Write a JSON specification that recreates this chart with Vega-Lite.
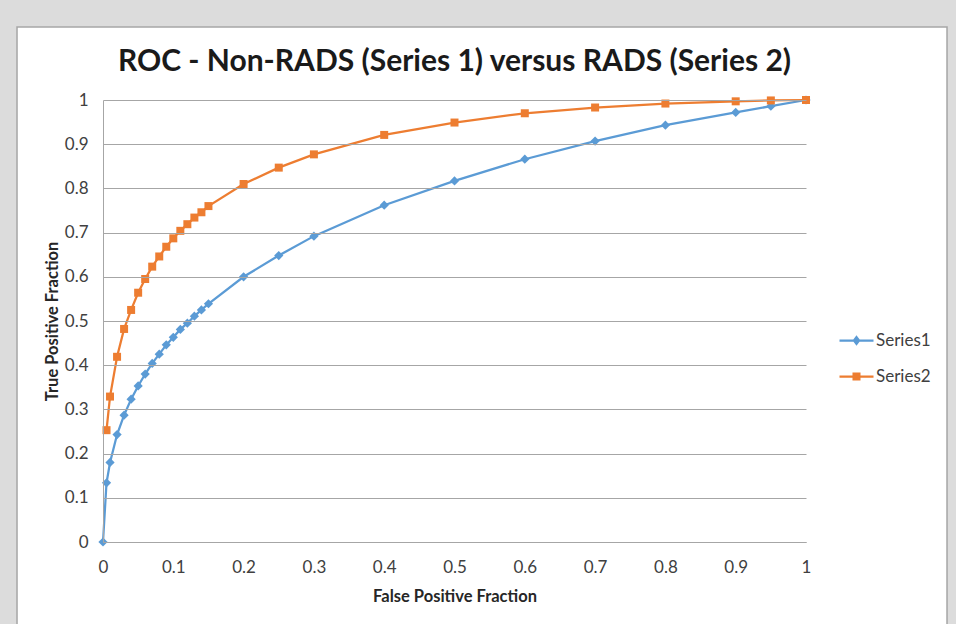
{
  "$schema": "https://vega.github.io/schema/vega-lite/v6.json",
  "width": 703,
  "height": 442,
  "autosize": {"type": "none"},
  "padding": {"left": 103, "top": 100, "right": 150, "bottom": 82},
  "background": "#dcdcdc",
  "title": {
    "text": "ROC - Non-RADS (Series 1) versus RADS (Series 2)",
    "font": "Lato",
    "fontSize": 30,
    "fontWeight": "bold",
    "color": "#1a1a1a",
    "anchor": "middle",
    "frame": "group",
    "baseline": "alphabetic",
    "offset": -75
  },
  "datasets": {
    "roc": [
      {"series": "Series1", "fpf": 0, "tpf": 0},
      {"series": "Series1", "fpf": 0.005, "tpf": 0.134},
      {"series": "Series1", "fpf": 0.01, "tpf": 0.18},
      {"series": "Series1", "fpf": 0.02, "tpf": 0.243},
      {"series": "Series1", "fpf": 0.03, "tpf": 0.287},
      {"series": "Series1", "fpf": 0.04, "tpf": 0.323},
      {"series": "Series1", "fpf": 0.05, "tpf": 0.353},
      {"series": "Series1", "fpf": 0.06, "tpf": 0.38},
      {"series": "Series1", "fpf": 0.07, "tpf": 0.404},
      {"series": "Series1", "fpf": 0.08, "tpf": 0.425},
      {"series": "Series1", "fpf": 0.09, "tpf": 0.446},
      {"series": "Series1", "fpf": 0.1, "tpf": 0.463},
      {"series": "Series1", "fpf": 0.11, "tpf": 0.481},
      {"series": "Series1", "fpf": 0.12, "tpf": 0.495},
      {"series": "Series1", "fpf": 0.13, "tpf": 0.511},
      {"series": "Series1", "fpf": 0.14, "tpf": 0.525},
      {"series": "Series1", "fpf": 0.15, "tpf": 0.539},
      {"series": "Series1", "fpf": 0.2, "tpf": 0.6},
      {"series": "Series1", "fpf": 0.25, "tpf": 0.648},
      {"series": "Series1", "fpf": 0.3, "tpf": 0.692},
      {"series": "Series1", "fpf": 0.4, "tpf": 0.762},
      {"series": "Series1", "fpf": 0.5, "tpf": 0.817},
      {"series": "Series1", "fpf": 0.6, "tpf": 0.866},
      {"series": "Series1", "fpf": 0.7, "tpf": 0.907},
      {"series": "Series1", "fpf": 0.8, "tpf": 0.943},
      {"series": "Series1", "fpf": 0.9, "tpf": 0.972},
      {"series": "Series1", "fpf": 0.95, "tpf": 0.986},
      {"series": "Series1", "fpf": 1, "tpf": 1},
      {"series": "Series2", "fpf": 0.005, "tpf": 0.253},
      {"series": "Series2", "fpf": 0.01, "tpf": 0.329},
      {"series": "Series2", "fpf": 0.02, "tpf": 0.419},
      {"series": "Series2", "fpf": 0.03, "tpf": 0.482},
      {"series": "Series2", "fpf": 0.04, "tpf": 0.525},
      {"series": "Series2", "fpf": 0.05, "tpf": 0.564},
      {"series": "Series2", "fpf": 0.06, "tpf": 0.595},
      {"series": "Series2", "fpf": 0.07, "tpf": 0.623},
      {"series": "Series2", "fpf": 0.08, "tpf": 0.646},
      {"series": "Series2", "fpf": 0.09, "tpf": 0.668},
      {"series": "Series2", "fpf": 0.1, "tpf": 0.687},
      {"series": "Series2", "fpf": 0.11, "tpf": 0.704},
      {"series": "Series2", "fpf": 0.12, "tpf": 0.719},
      {"series": "Series2", "fpf": 0.13, "tpf": 0.734},
      {"series": "Series2", "fpf": 0.14, "tpf": 0.746},
      {"series": "Series2", "fpf": 0.15, "tpf": 0.76},
      {"series": "Series2", "fpf": 0.2, "tpf": 0.81},
      {"series": "Series2", "fpf": 0.25, "tpf": 0.847},
      {"series": "Series2", "fpf": 0.3, "tpf": 0.877},
      {"series": "Series2", "fpf": 0.4, "tpf": 0.921},
      {"series": "Series2", "fpf": 0.5, "tpf": 0.949},
      {"series": "Series2", "fpf": 0.6, "tpf": 0.97},
      {"series": "Series2", "fpf": 0.7, "tpf": 0.983},
      {"series": "Series2", "fpf": 0.8, "tpf": 0.992},
      {"series": "Series2", "fpf": 0.9, "tpf": 0.997},
      {"series": "Series2", "fpf": 0.95, "tpf": 0.999},
      {"series": "Series2", "fpf": 1, "tpf": 1}
    ]
  },
  "layer": [
    {
      "data": {"values": [{"frame": "chart area"}]},
      "mark": {"type": "rect", "fill": "#ffffff", "stroke": "#a6a6a6", "strokeWidth": 1.5, "clip": false},
      "encoding": {
        "x": {"datum": -0.1223, "type": "quantitative", "scale": {"domain": [0, 1], "nice": false, "zero": false}},
        "x2": {"datum": 1.2006},
        "y": {"datum": 1.1652, "type": "quantitative", "scale": {"domain": [0, 1], "nice": false, "zero": false}},
        "y2": {"datum": -0.2}
      }
    },
    {
      "data": {"name": "roc"},
      "mark": {"type": "line", "strokeWidth": 2.25},
      "encoding": {
        "x": {
          "field": "fpf", "type": "quantitative",
          "scale": {"domain": [0, 1], "nice": false, "zero": false},
          "axis": {
            "title": "False Positive Fraction",
            "values": [0, 0.1, 0.2, 0.3, 0.4, 0.5, 0.6, 0.7, 0.8, 0.9, 1],
            "format": "~g",
            "grid": false,
            "labelPadding": 17,
            "titlePadding": 13,
            "zindex": 1
          }
        },
        "y": {
          "field": "tpf", "type": "quantitative",
          "scale": {"domain": [0, 1], "nice": false, "zero": false},
          "axis": {
            "title": "True Positive Fraction",
            "values": [0, 0.1, 0.2, 0.3, 0.4, 0.5, 0.6, 0.7, 0.8, 0.9, 1],
            "format": "~g",
            "grid": true,
            "labelPadding": 15,
            "titlePadding": 4,
            "zindex": 1
          }
        },
        "color": {
          "field": "series", "type": "nominal",
          "scale": {"domain": ["Series1", "Series2"], "range": ["#5b9bd5", "#ed7d31"]},
          "legend": {
            "title": null,
            "orient": "none",
            "legendX": 735,
            "legendY": 222,
            "labelFont": "Lato",
            "labelFontSize": 17,
            "labelColor": "#404040",
            "labelOffset": 1,
            "symbolSize": 1156,
            "symbolStrokeWidth": 2.25,
            "rowPadding": 9,
            "padding": 0,
            "encode": {
              "symbols": {
                "update": {
                  "shape": {"signal": "datum.value === 'Series1' ? 'M-1,0L1,0M0,-0.2L0.15,0L0,0.2L-0.15,0Z' : 'M-1,0L1,0M-0.17,-0.17L0.17,-0.17L0.17,0.17L-0.17,0.17Z'"},
                  "size": {"value": 1156},
                  "fill": {"scale": "color", "field": "value"},
                  "stroke": {"scale": "color", "field": "value"},
                  "strokeWidth": {"value": 2.25},
                  "opacity": {"value": 1}
                }
              }
            }
          }
        }
      }
    },
    {
      "data": {"name": "roc"},
      "transform": [{"filter": "datum.series === 'Series1'"}],
      "mark": {"type": "point", "filled": true, "opacity": 1, "shape": "diamond", "size": 85},
      "encoding": {
        "x": {"field": "fpf", "type": "quantitative"},
        "y": {"field": "tpf", "type": "quantitative"},
        "color": {"field": "series", "type": "nominal", "legend": null}
      }
    },
    {
      "data": {"name": "roc"},
      "transform": [{"filter": "datum.series === 'Series2'"}],
      "mark": {"type": "point", "filled": true, "opacity": 1, "shape": "square", "size": 64},
      "encoding": {
        "x": {"field": "fpf", "type": "quantitative"},
        "y": {"field": "tpf", "type": "quantitative"},
        "color": {"field": "series", "type": "nominal", "legend": null}
      }
    }
  ],
  "config": {
    "font": "Lato",
    "axis": {
      "domain": true,
      "domainColor": "#a6a6a6",
      "domainWidth": 1,
      "gridColor": "#a6a6a6",
      "gridWidth": 1,
      "ticks": false,
      "labelFont": "Lato",
      "labelFontSize": 17,
      "labelColor": "#404040",
      "titleFont": "Lato",
      "titleFontSize": 16.5,
      "titleFontWeight": "bold",
      "titleColor": "#262626",
      "labelFlush": false,
      "labelOverlap": false
    },
    "view": {"stroke": null}
  }
}
